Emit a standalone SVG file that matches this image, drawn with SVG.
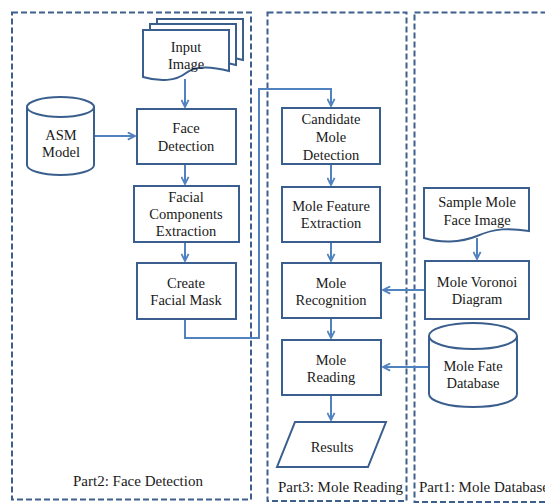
<svg xmlns="http://www.w3.org/2000/svg" width="545" height="503" viewBox="0 0 545 503">
<defs>
<marker id="ah" viewBox="0 0 10 10" refX="9" refY="5" markerWidth="4.5" markerHeight="4.5" orient="auto" markerUnits="strokeWidth">
<path d="M1,1 L9,5 L1,9" fill="none" stroke="#5182c0" stroke-width="2"/>
</marker>
</defs>
<rect width="545" height="503" fill="#fff"/>
<g id="panels">
<g fill="none" stroke="#3d5f8c" stroke-width="2" stroke-dasharray="6 3">
<rect x="12" y="12.5" width="239" height="487"/>
<rect x="267.5" y="12.5" width="139" height="488.5"/>
<rect x="414.5" y="12.5" width="140" height="489.5"/>
</g>
<text x="73" y="486" font-family="Liberation Serif" font-size="15" fill="#1a1a1a">Part2: Face Detection</text>
<text x="278" y="492" font-family="Liberation Serif" font-size="15" fill="#1a1a1a">Part3: Mole Reading</text>
<text x="419" y="492" font-family="Liberation Serif" font-size="15" fill="#1a1a1a">Part1: Mole Database</text>
</g>
<g id="connectors" fill="none" stroke="#5182c0" stroke-width="2">
<path d="M185,79 V107" marker-end="url(#ah)"/>
<path d="M94,136 H135" marker-end="url(#ah)"/>
<path d="M185,164 V184" marker-end="url(#ah)"/>
<path d="M185,242 V261" marker-end="url(#ah)"/>
<path d="M185,319 V338 H259 V89 H331 V106" marker-end="url(#ah)"/>
<path d="M331,164 V185" marker-end="url(#ah)"/>
<path d="M331,242 V261" marker-end="url(#ah)"/>
<path d="M477,238 V259" marker-end="url(#ah)"/>
<path d="M425,290 H383" marker-end="url(#ah)"/>
<path d="M331,318 V338" marker-end="url(#ah)"/>
<path d="M429,367 H383" marker-end="url(#ah)"/>
<path d="M331,395 V420" marker-end="url(#ah)"/>
</g>
<g id="nodes">
<g id="input-image">
<path fill="#fff" stroke="#3a5f8e" stroke-width="2" d="M157,19 H243 V60 C224,55 209,55 200,62 C190,70 174,71 157,66 Z"/>
<path fill="#fff" stroke="#3a5f8e" stroke-width="2" d="M150,24 H236 V65 C217,60 202,60 193,67 C183,75 167,76 150,71 Z"/>
<path fill="#fff" stroke="#3a5f8e" stroke-width="2" d="M143,30 H229 V71 C210,66 195,66 186,73 C176,81 160,82 143,77 Z"/>
<text x="186" y="52" font-family="Liberation Serif" font-size="14.5" fill="#1a1a1a" text-anchor="middle">Input</text>
<text x="186" y="69" font-family="Liberation Serif" font-size="14.5" fill="#1a1a1a" text-anchor="middle">Image</text>
</g>
<g id="asm-model">
<path fill="#fff" stroke="#3a5f8e" stroke-width="2" d="M27,107 A33.5,10 0 0 1 94,107 V165 A33.5,10 0 0 1 27,165 Z"/>
<path fill="none" stroke="#3a5f8e" stroke-width="2" d="M27,107 A33.5,10 0 0 0 94,107"/>
<text x="61" y="140" font-family="Liberation Serif" font-size="14.5" fill="#1a1a1a" text-anchor="middle">ASM</text>
<text x="61" y="157" font-family="Liberation Serif" font-size="14.5" fill="#1a1a1a" text-anchor="middle">Model</text>
</g>
<g id="face-detection">
<rect fill="#fff" stroke="#3a5f8e" stroke-width="2" x="137" y="109" width="99" height="55"/>
<text x="186" y="133" font-family="Liberation Serif" font-size="14.5" fill="#1a1a1a" text-anchor="middle">Face</text>
<text x="186" y="151" font-family="Liberation Serif" font-size="14.5" fill="#1a1a1a" text-anchor="middle">Detection</text>
</g>
<g id="facial-components">
<rect fill="#fff" stroke="#3a5f8e" stroke-width="2" x="134" y="186" width="105" height="56"/>
<text x="186" y="202" font-family="Liberation Serif" font-size="14.5" fill="#1a1a1a" text-anchor="middle">Facial</text>
<text x="186" y="219" font-family="Liberation Serif" font-size="14.5" fill="#1a1a1a" text-anchor="middle">Components</text>
<text x="186" y="236" font-family="Liberation Serif" font-size="14.5" fill="#1a1a1a" text-anchor="middle">Extraction</text>
</g>
<g id="facial-mask">
<rect fill="#fff" stroke="#3a5f8e" stroke-width="2" x="137" y="263" width="99" height="56"/>
<text x="186" y="288" font-family="Liberation Serif" font-size="14.5" fill="#1a1a1a" text-anchor="middle">Create</text>
<text x="186" y="305" font-family="Liberation Serif" font-size="14.5" fill="#1a1a1a" text-anchor="middle">Facial Mask</text>
</g>
<g id="candidate">
<rect fill="#fff" stroke="#3a5f8e" stroke-width="2" x="282" y="108" width="98" height="56"/>
<text x="331" y="124" font-family="Liberation Serif" font-size="14.5" fill="#1a1a1a" text-anchor="middle">Candidate</text>
<text x="331" y="142" font-family="Liberation Serif" font-size="14.5" fill="#1a1a1a" text-anchor="middle">Mole</text>
<text x="331" y="160" font-family="Liberation Serif" font-size="14.5" fill="#1a1a1a" text-anchor="middle">Detection</text>
</g>
<g id="feature">
<rect fill="#fff" stroke="#3a5f8e" stroke-width="2" x="282" y="187" width="98" height="55"/>
<text x="331" y="211" font-family="Liberation Serif" font-size="14.5" fill="#1a1a1a" text-anchor="middle">Mole Feature</text>
<text x="331" y="228" font-family="Liberation Serif" font-size="14.5" fill="#1a1a1a" text-anchor="middle">Extraction</text>
</g>
<g id="recognition">
<rect fill="#fff" stroke="#3a5f8e" stroke-width="2" x="282" y="263" width="99" height="55"/>
<text x="331" y="288" font-family="Liberation Serif" font-size="14.5" fill="#1a1a1a" text-anchor="middle">Mole</text>
<text x="331" y="305" font-family="Liberation Serif" font-size="14.5" fill="#1a1a1a" text-anchor="middle">Recognition</text>
</g>
<g id="reading">
<rect fill="#fff" stroke="#3a5f8e" stroke-width="2" x="282" y="340" width="99" height="55"/>
<text x="331" y="365" font-family="Liberation Serif" font-size="14.5" fill="#1a1a1a" text-anchor="middle">Mole</text>
<text x="331" y="382" font-family="Liberation Serif" font-size="14.5" fill="#1a1a1a" text-anchor="middle">Reading</text>
</g>
<g id="results">
<path fill="#fff" stroke="#3a5f8e" stroke-width="2" d="M295,422 H386 L368,467 H277 Z"/>
<text x="332" y="452" font-family="Liberation Serif" font-size="14.5" fill="#1a1a1a" text-anchor="middle">Results</text>
</g>
<g id="sample">
<path fill="#fff" stroke="#3a5f8e" stroke-width="2" d="M424,188 H529 V231 C510,228 495,228 477,236 C460,243 440,243 424,238 Z"/>
<text x="477" y="207" font-family="Liberation Serif" font-size="14.5" fill="#1a1a1a" text-anchor="middle">Sample Mole</text>
<text x="477" y="225" font-family="Liberation Serif" font-size="14.5" fill="#1a1a1a" text-anchor="middle">Face Image</text>
</g>
<g id="voronoi">
<rect fill="#fff" stroke="#3a5f8e" stroke-width="2" x="425" y="261" width="104" height="58"/>
<text x="477" y="287" font-family="Liberation Serif" font-size="14.5" fill="#1a1a1a" text-anchor="middle">Mole Voronoi</text>
<text x="477" y="304" font-family="Liberation Serif" font-size="14.5" fill="#1a1a1a" text-anchor="middle">Diagram</text>
</g>
<g id="fate-db">
<path fill="#fff" stroke="#3a5f8e" stroke-width="2" d="M429,336 A44,13 0 0 1 517,336 V394 A44,13 0 0 1 429,394 Z"/>
<path fill="none" stroke="#3a5f8e" stroke-width="2" d="M429,336 A44,13 0 0 0 517,336"/>
<text x="473" y="371" font-family="Liberation Serif" font-size="14.5" fill="#1a1a1a" text-anchor="middle">Mole Fate</text>
<text x="473" y="388" font-family="Liberation Serif" font-size="14.5" fill="#1a1a1a" text-anchor="middle">Database</text>
</g>
</g>
</svg>
